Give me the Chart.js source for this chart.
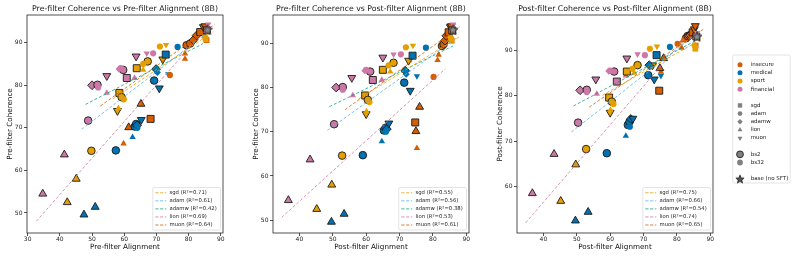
<!DOCTYPE html>
<html><head><meta charset="utf-8">
<script src="https://cdn.jsdelivr.net/npm/chart.js@4.4.1/dist/chart.umd.min.js"></script>
<style>
html,body{margin:0;padding:0;background:#fff;}
#wrap{position:relative;width:798px;height:258px;overflow:hidden;background:#fff;}
canvas{position:absolute;top:0;}
</style></head><body>
<div id="wrap">
<canvas id="c1" width="250" height="258" style="left:0px"></canvas>
<canvas id="c2" width="250" height="258" style="left:246px"></canvas>
<canvas id="c3" width="250" height="258" style="left:490px"></canvas>
<canvas id="c4" width="73" height="258" style="left:725px"></canvas>
</div>
<script>
// ---------------- data ----------------
const groups = ['insecure','medical','sport','financial'];
const optimizers = ['sgd','adam','adamw','lion','muon'];
const batchLabels = ['bs2','bs32'];
const baseLabel = 'base (no SFT)';

const pointGroup = ['financial','financial','sport','sport','medical','medical','sport','medical','financial','insecure',
 'medical','insecure','medical','medical','medical','medical','medical','insecure','insecure','sport',
 'sport','sport','sport','sport','financial','financial','financial','financial','financial','financial',
 'financial','financial','financial','financial','financial','financial','financial','sport','sport','sport',
 'sport','sport','sport','sport','medical','medical','medical','medical','medical','medical',
 'medical','insecure','insecure','insecure','insecure','insecure','insecure','insecure','insecure','insecure',
 'insecure','insecure','sport','sport','financial','financial'];
const pointOptimizer = ['lion','lion','lion','lion','lion','lion','adam','adam','adam','lion',
 'lion','lion','adam','adam','adamw','adam','muon','sgd','lion','muon',
 'lion','sgd','adam','adam','lion','adamw','adam','adam','muon','sgd',
 'adam','adam','adamw','lion','muon','muon','adam','sgd','adam','adam',
 'lion','adam','muon','muon','sgd','adam','adamw','adamw','adam','muon',
 'muon','adam','adam','adam','adamw','adamw','sgd','muon','muon','lion',
 'lion','sgd','adam','sgd','sgd','muon'];
const pointBatch = [2,2,2,2,2,2,2,2,2,32,
 32,2,2,2,2,32,2,2,2,2,
 32,2,2,32,32,2,2,32,2,2,
 2,32,32,32,2,32,32,2,2,32,
 32,32,32,2,2,32,2,32,2,2,
 32,32,2,2,2,2,2,2,2,32,
 32,32,32,32,2,32];
const preAlign = [34.7,41.4,45.1,42.3,47.5,51.0,49.8,57.4,48.8,59.8,
 62.6,61.4,63.3,63.7,64.0,64.1,65.3,68.2,65.2,57.9,
 58.2,58.5,59.2,59.9,54.6,50.0,51.7,51.9,54.6,60.8,
 59.7,58.9,58.4,63.2,63.7,67.0,69.0,63.9,67.3,65.9,
 65.9,71.1,73.0,72.0,72.9,76.6,69.9,70.3,69.3,70.9,
 73.7,74.2,79.4,80.5,81.5,82.5,83.6,84.6,85.1,78.9,
 78.9,85.6,85.1,85.3,85.7,86.1];
const postAlign = [36.7,43.2,49.7,45.2,49.6,53.4,52.8,59.0,50.4,75.2,
 64.7,74.9,65.3,65.8,66.2,65.9,66.8,74.7,76.0,60.0,
 60.1,59.7,60.5,61.0,56.0,51.0,53.0,53.0,55.7,62.0,
 61.2,60.0,59.6,64.7,65.0,68.2,70.4,65.0,68.2,66.7,
 67.2,71.9,74.0,72.7,73.9,77.9,71.7,72.0,71.4,73.2,
 75.2,80.2,82.7,83.2,83.6,84.0,84.7,85.2,85.5,81.7,
 81.4,85.6,85.3,85.5,85.8,86.0];
const preCoherence = [54.5,63.7,58.0,52.5,49.6,51.4,64.6,64.7,71.7,66.3,
 67.8,70.1,70.3,70.9,70.6,70.0,71.9,72.1,75.6,74.0,
 74.6,78.2,77.2,76.7,78.2,80.0,80.1,79.5,82.2,81.7,
 83.6,84.0,83.8,81.7,86.8,87.5,87.5,84.0,85.6,85.0,
 83.6,89.1,89.5,86.1,87.2,89.0,83.8,83.0,81.1,79.3,
 82.6,82.4,89.4,89.8,90.6,91.7,92.5,93.7,93.9,87.4,
 86.2,90.6,91.3,90.8,92.9,94.3];
const postCoherence = [58.6,67.2,64.9,56.9,52.6,54.5,68.3,67.4,74.1,85.2,
 71.2,86.0,73.6,74.3,74.9,73.2,75.0,81.1,88.2,76.3,
 76.9,79.6,78.7,78.2,80.4,81.2,81.3,80.8,83.6,83.1,
 85.3,85.5,85.4,84.4,88.2,89.1,88.9,85.3,86.7,85.9,
 85.0,90.3,90.8,86.7,88.9,90.7,86.7,86.4,84.5,83.6,
 84.4,91.4,92.6,93.1,93.2,93.3,93.9,94.6,95.3,92.1,
 90.5,91.0,91.0,90.3,93.0,93.8];
// base model (no SFT): preAlign, postAlign, preCoherence, postCoherence
const basePoint = [85.9, 86.0, 93.1, 93.0];

const r2PreVsPre = ['0.71','0.61','0.42','0.69','0.64'];
const r2PreVsPost = ['0.55','0.56','0.38','0.53','0.61'];
const r2PostVsPost = ['0.75','0.66','0.54','0.74','0.65'];

const xTicksPanel1 = [30,40,50,60,70,80,90];
const yTicksPanel1 = [50,60,70,80,90];
const xTicksPanel2 = [40,50,60,70,80,90];
const yTicksPanel2 = [50,60,70,80,90];
const xTicksPanel3 = [40,50,60,70,80,90];
const yTicksPanel3 = [60,70,80,90];

// ---------------- styles ----------------
const FAM = 'DejaVu Sans';
const COLORS = {insecure:'#D55E00', medical:'#0072B2', sport:'#E69F00', financial:'#CC79A7'};
const FIT_COLORS = {sgd:'rgba(230,159,0,0.8)', adam:'rgba(86,180,233,0.8)', adamw:'rgba(0,158,115,0.75)', lion:'rgba(204,121,167,0.8)', muon:'rgba(213,94,0,0.8)'};
const SHAPES = {sgd:'rect', adam:'circle', adamw:'rectRot', lion:'triangle', muon:'triangle'};
const SHAPE_SCALE = {sgd:1.3, adam:1, adamw:1.15, lion:1.2, muon:1.2};

function markerRadius(opt, bs){ return (bs === 2 ? 3.8 : 3.1) * SHAPE_SCALE[opt]; }

function makeStar(size, fill, stroke){
  const c = document.createElement('canvas'); c.width = size; c.height = size;
  const g = c.getContext('2d'); const cx = size/2, R = size/2 - 0.7, r = R*0.42;
  g.beginPath();
  for (let k = 0; k < 10; k++) {
    const ang = -Math.PI/2 + k*Math.PI/5, rr = (k % 2) ? r : R;
    g.lineTo(cx + rr*Math.cos(ang), cx + rr*Math.sin(ang) + 0.6);
  }
  g.closePath(); g.fillStyle = fill; g.fill(); g.lineWidth = 0.8; g.strokeStyle = stroke; g.stroke();
  return c;
}
const starImg = makeStar(12, '#8a8a8a', '#1a1a1a');
const starLegendImg = makeStar(10, '#555555', '#111111');

function fitLine(xs, ys){
  const n = xs.length; let mx = 0, my = 0;
  for (let i = 0; i < n; i++){ mx += xs[i]; my += ys[i]; }
  mx /= n; my /= n; let sxy = 0, sxx = 0;
  for (let i = 0; i < n; i++){ sxy += (xs[i]-mx)*(ys[i]-my); sxx += (xs[i]-mx)*(xs[i]-mx); }
  const b = sxy/sxx, a = my - b*mx;
  const x0 = Math.min(...xs) - 2, x1 = Math.max(...xs) + 2;
  return [{x:x0, y:a+b*x0}, {x:x1, y:a+b*x1}];
}

function decoPlugin(title, r2){
  return {
    id: 'deco',
    afterDraw(chart){
      const {ctx, chartArea: a} = chart;
      ctx.save();
      ctx.strokeStyle = '#262626'; ctx.lineWidth = 0.8;
      ctx.strokeRect(a.left, a.top, a.right - a.left, a.bottom - a.top);
      ctx.fillStyle = '#1a1a1a';
      ctx.font = '7.8px "' + FAM + '"';
      ctx.textAlign = 'center'; ctx.textBaseline = 'alphabetic';
      ctx.fillText(title, (a.left + a.right)/2, 11);
      ctx.font = '5.3px "' + FAM + '"';
      const labels = optimizers.map((o, i) => o + ' (R²=' + r2[i] + ')');
      const tw = Math.max(...labels.map(l => ctx.measureText(l).width));
      const w = 17 + tw + 3.5, h = 42.5;
      const x0 = a.right - 2.5 - w, y0 = a.bottom - 3 - h;
      ctx.beginPath();
      if (ctx.roundRect) ctx.roundRect(x0, y0, w, h, 1.5); else ctx.rect(x0, y0, w, h);
      ctx.fillStyle = 'rgba(255,255,255,0.85)'; ctx.fill();
      ctx.strokeStyle = '#d2d2d2'; ctx.lineWidth = 0.6; ctx.stroke();
      labels.forEach((l, i) => {
        const y = y0 + 5.3 + i*8.05;
        ctx.setLineDash([3.2, 1.6]); ctx.strokeStyle = FIT_COLORS[optimizers[i]]; ctx.lineWidth = 1;
        ctx.beginPath(); ctx.moveTo(x0 + 2.5, y); ctx.lineTo(x0 + 13.5, y); ctx.stroke();
        ctx.setLineDash([]);
        ctx.fillStyle = '#222'; ctx.textAlign = 'left'; ctx.textBaseline = 'middle';
        ctx.fillText(l, x0 + 16.7, y);
      });
      ctx.restore();
    }
  };
}

function makePanel(id, xs, ys, baseX, baseY, xr, yr, xTicks, yTicks, xLabel, yLabel, title, r2){
  const datasets = [];
  datasets.push({type:'scatter', data:[{x:baseX, y:baseY}], pointStyle: starImg, pointRadius: 6, order: 0});
  optimizers.forEach(o => {
    const fx = [], fy = [];
    xs.forEach((x, i) => { if (pointOptimizer[i] === o){ fx.push(x); fy.push(ys[i]); } });
    datasets.push({type:'scatter', data: fitLine(fx, fy), showLine: true, borderColor: FIT_COLORS[o],
      borderWidth: 1, borderDash: [3, 2], pointRadius: 0, order: 1});
  });
  datasets.push({
    type:'scatter', order: 2,
    data: xs.map((x, i) => ({x: x, y: ys[i]})),
    pointStyle: c => SHAPES[pointOptimizer[c.dataIndex]],
    pointRotation: c => pointOptimizer[c.dataIndex] === 'muon' ? 180 : 0,
    pointRadius: c => markerRadius(pointOptimizer[c.dataIndex], pointBatch[c.dataIndex]),
    pointBackgroundColor: c => COLORS[pointGroup[c.dataIndex]],
    pointBorderColor: c => pointBatch[c.dataIndex] === 2 ? '#1a1a1a' : 'rgba(0,0,0,0)',
    pointBorderWidth: c => pointBatch[c.dataIndex] === 2 ? 0.9 : 0
  });
  const tickFont = {family: FAM, size: 6, lineHeight: 1};
  const grid = {display: true, drawOnChartArea: false, drawTicks: true, tickLength: 3, color: '#262626', lineWidth: 0.8};
  new Chart(document.getElementById(id), {
    type: 'scatter',
    data: {datasets},
    options: {
      responsive: false, animation: false, events: [],
      layout: {padding: {left: 0, right: 27, top: 15, bottom: 0}},
      plugins: {legend: {display: false}, tooltip: {enabled: false}, title: {display: false}},
      scales: {
        x: {type: 'linear', min: xr[0], max: xr[1],
          afterBuildTicks: s => { s.ticks = xTicks.map(v => ({value: v})); },
          afterFit: s => { s.height = 25; },
          ticks: {font: tickFont, color: '#222', padding: 0, maxRotation: 0, autoSkip: false},
          grid: grid, border: {display: false},
          title: {display: true, text: xLabel, color: '#111', font: {family: FAM, size: 7.2, lineHeight: 1.2}, padding: {top: 0, bottom: 6.7}}
        },
        y: {type: 'linear', min: yr[0], max: yr[1],
          afterBuildTicks: s => { s.ticks = yTicks.map(v => ({value: v})); },
          afterFit: s => { s.width = 27; },
          ticks: {font: tickFont, color: '#222', padding: 1.5, autoSkip: false},
          grid: grid, border: {display: false},
          title: {display: true, text: yLabel, color: '#111', font: {family: FAM, size: 7.2, lineHeight: 1.2}, padding: {top: 5.7, bottom: 0}}
        }
      }
    },
    plugins: [decoPlugin(title, r2)]
  });
}

makePanel('c1', preAlign, preCoherence, basePoint[0], basePoint[2], [29.8, 90.7], [45.3, 96.5],
  xTicksPanel1, yTicksPanel1, 'Pre-filter Alignment', 'Pre-filter Coherence',
  'Pre-filter Coherence vs Pre-filter Alignment (8B)', r2PreVsPre);
makePanel('c2', postAlign, preCoherence, basePoint[1], basePoint[2], [32.1, 90.8], [47.1, 96.4],
  xTicksPanel2, yTicksPanel2, 'Post-filter Alignment', 'Pre-filter Coherence',
  'Pre-filter Coherence vs Post-filter Alignment (8B)', r2PreVsPost);
makePanel('c3', postAlign, postCoherence, basePoint[1], basePoint[3], [32.1, 90.8], [49.9, 97.7],
  xTicksPanel3, yTicksPanel3, 'Post-filter Alignment', 'Post-filter Coherence',
  'Post-filter Coherence vs Post-filter Alignment (8B)', r2PostVsPost);

// ---------------- side legend ----------------
const GRAY = '#808080';
const sideRows = [];
groups.forEach(g => sideRows.push({label: g, style: 'circle', fill: COLORS[g], r: 2.5, bw: 0}));
sideRows.push(null);
optimizers.forEach(o => sideRows.push({label: o, style: SHAPES[o], fill: GRAY, r: 2.5*SHAPE_SCALE[o]*0.95, rot: o === 'muon' ? 180 : 0, bw: 0}));
sideRows.push(null);
sideRows.push({label: batchLabels[0], style: 'circle', fill: GRAY, r: 3.4, bw: 0.9});
sideRows.push({label: batchLabels[1], style: 'circle', fill: GRAY, r: 2.9, bw: 0});
sideRows.push(null);
sideRows.push({label: baseLabel, style: starLegendImg, fill: GRAY, r: 5, bw: 0});

const sideLegend = {
  id: 'sideLegend',
  afterDraw(chart){
    const ctx = chart.ctx;
    ctx.save();
    const bx = 7.7, by = 55, bw = 57.5, bh = 128;
    ctx.beginPath();
    if (ctx.roundRect) ctx.roundRect(bx, by, bw, bh, 1.5); else ctx.rect(bx, by, bw, bh);
    ctx.fillStyle = 'rgba(255,255,255,0.9)'; ctx.fill();
    ctx.strokeStyle = '#d2d2d2'; ctx.lineWidth = 0.6; ctx.stroke();
    ctx.font = '5.5px "' + FAM + '"';
    sideRows.forEach((row, i) => {
      if (!row) return;
      const y = 64.7 + i*8.15;
      ctx.fillStyle = row.fill; ctx.strokeStyle = '#1a1a1a'; ctx.lineWidth = row.bw;
      Chart.helpers.drawPoint(ctx, {pointStyle: row.style, radius: row.r, rotation: row.rot || 0, borderWidth: row.bw}, 15, y);
      ctx.fillStyle = '#222'; ctx.textAlign = 'left'; ctx.textBaseline = 'middle';
      ctx.fillText(row.label, 25.7, y);
    });
    ctx.restore();
  }
};
new Chart(document.getElementById('c4'), {
  type: 'scatter', data: {datasets: []},
  options: {responsive: false, animation: false, events: [],
    plugins: {legend: {display: false}, tooltip: {enabled: false}},
    scales: {x: {display: false}, y: {display: false}}},
  plugins: [sideLegend]
});
</script>
</body></html>
